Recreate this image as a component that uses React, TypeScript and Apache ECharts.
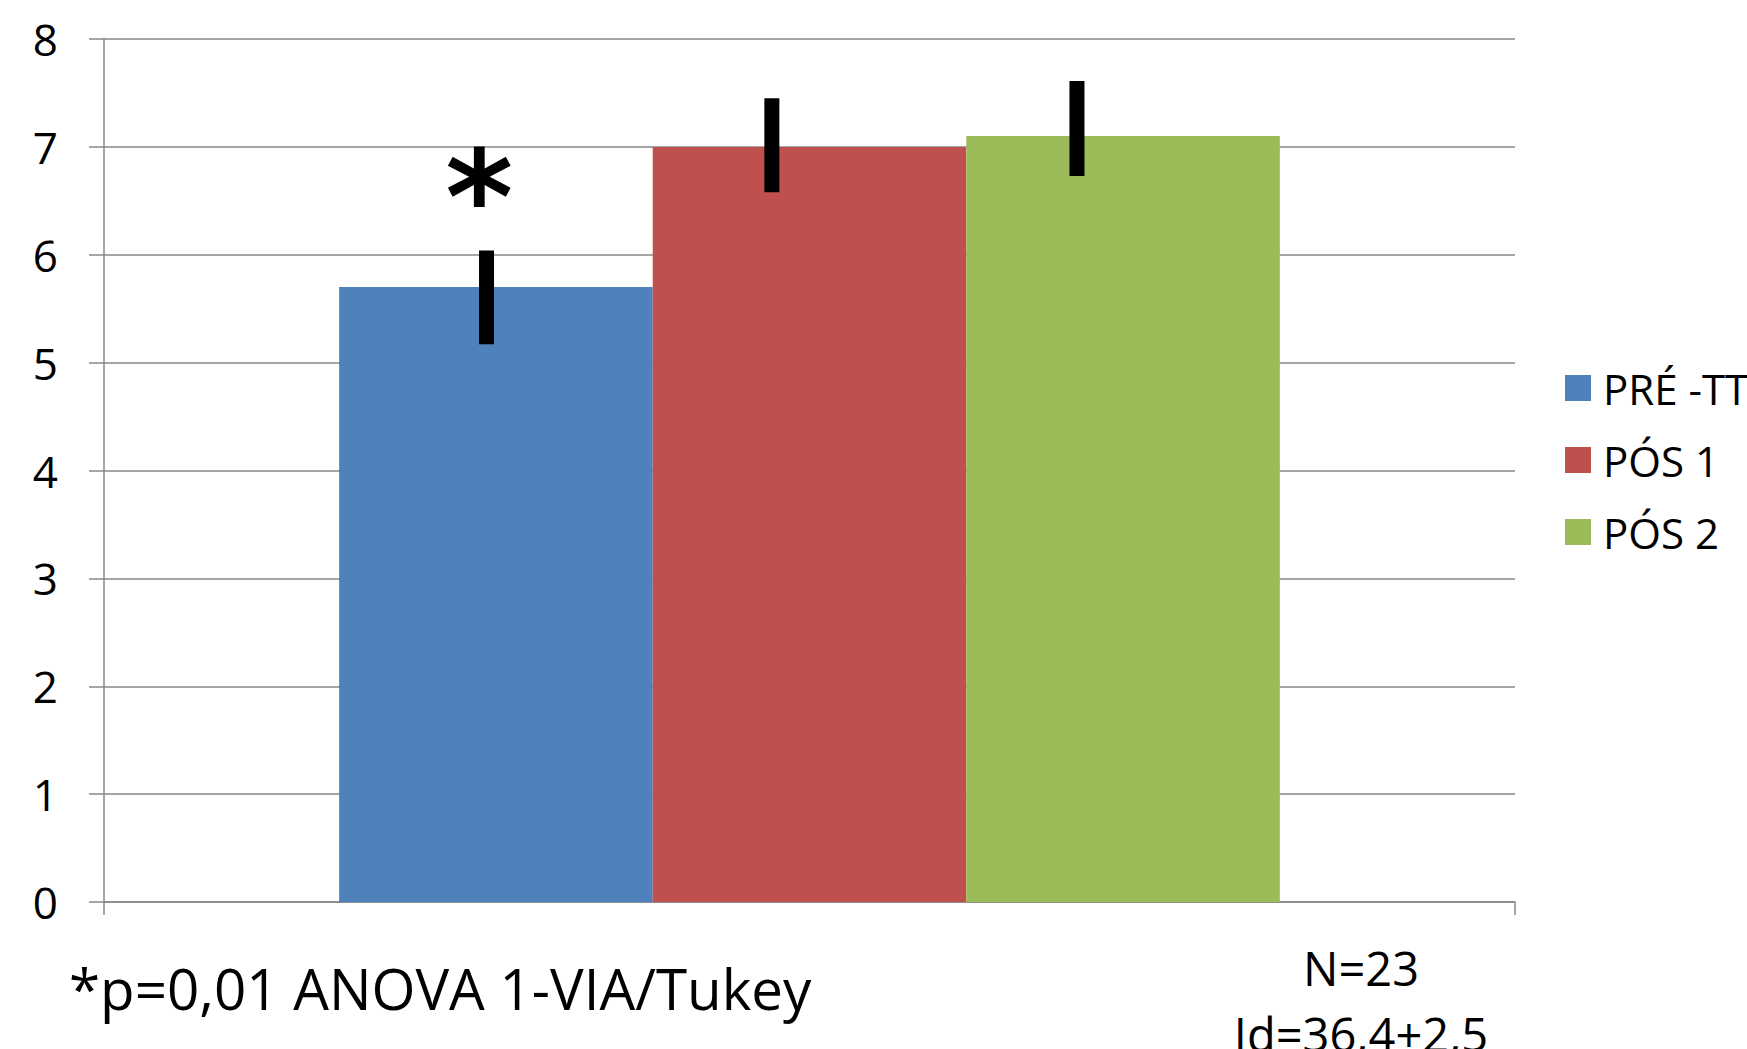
import React, { useEffect, useRef } from "react";
import * as echarts from "echarts";

// ---- data ----
const categories = [""];
const seriesNames = ["PRÉ -TT", "PÓS 1", "PÓS 2"];
const meanValues = [5.7, 7.0, 7.1];
const errorLow = [5.17, 6.58, 6.73];
const errorHigh = [6.04, 7.45, 7.61];
const significanceMarks = ["*", "", ""];
const significanceLevel = [6.53, 0, 0];
const yMin = 0;
const yMax = 8;
const yInterval = 1;
const footnote = "*p=0,01 ANOVA 1-VIA/Tukey";
const sampleNotes = ["N=23", "Id=36,4+2,5"];

// ---- style ----
const colors = ["#4F81BD", "#C0504D", "#9BBB59"];
const errFrac = [0.47, 0.38, 0.353];
const starFrac = [0.447, 0.5, 0.5];
const gridColor = "#878787";
const FONT = "'Open Sans', 'Noto Sans', sans-serif";
const CAT_GAP = 1 / 3;

export default function App() {
  const ref = useRef<HTMLDivElement>(null);
  useEffect(() => {
    if (!ref.current) return;
    const chart = echarts.init(ref.current, undefined, { renderer: "svg" });
    const barSeries = seriesNames.map((name, i) => ({
      name,
      type: "bar",
      data: [meanValues[i]],
      barGap: "0%",
      barCategoryGap: (CAT_GAP * 100).toFixed(2) + "%",
      itemStyle: { color: colors[i] },
      z: 2,
    }));
    const errSeries = {
      type: "custom",
      name: "err",
      clip: false,
      z: 5,
      data: seriesNames.map((_, i) => [0, errorLow[i], errorHigh[i], i, significanceLevel[i]]),
      encode: { x: 0, y: [1, 2] },
      renderItem: (params: any, api: any) => {
        const i = api.value(3);
        const center = api.coord([0, 0]);
        const band = api.size([1, 0])[0];
        const barW = (band * (1 - CAT_GAP)) / seriesNames.length;
        const left = center[0] - (barW * seriesNames.length) / 2 + i * barW;
        const x = left + errFrac[i] * barW;
        const yTop = api.coord([0, api.value(2)])[1];
        const yBot = api.coord([0, api.value(1)])[1];
        const children: any[] = [
          {
            type: "rect",
            shape: { x: x - 7.5, y: yTop, width: 15, height: yBot - yTop },
            style: { fill: "#000" },
          },
        ];
        if (significanceMarks[i]) {
          const ys = api.coord([0, api.value(4)])[1];
          children.push({
            type: "text",
            style: {
              text: significanceMarks[i],
              x: left + starFrac[i] * barW,
              y: ys,
              fill: "#000",
              fontSize: 130,
              fontWeight: "bold",
              fontFamily: "'DejaVu Sans', sans-serif",
              align: "center",
              verticalAlign: "middle",
            },
          });
        }
        return { type: "group", children };
      },
    };
    chart.setOption({
      animation: false,
      backgroundColor: "#fff",
      grid: { left: 104, right: 232, top: 39, bottom: 147, containLabel: false },
      legend: {
        data: seriesNames,
        orient: "vertical",
        left: 1565,
        top: 367,
        padding: 0,
        itemWidth: 26,
        itemHeight: 26,
        itemGap: 30,
        icon: "rect",
        selectedMode: false,
        textStyle: {
          fontSize: 42,
          fontFamily: FONT,
          color: "#000",
          padding: [0, 0, 0, 7],
        },
      },
      xAxis: {
        type: "category",
        data: categories,
        axisLine: { show: true, lineStyle: { color: gridColor, width: 1.5 } },
        axisTick: { show: true, length: 13, lineStyle: { color: gridColor, width: 1.5 } },
        axisLabel: { show: false },
      },
      yAxis: {
        type: "value",
        min: yMin,
        max: yMax,
        interval: yInterval,
        axisLine: { show: true, lineStyle: { color: gridColor, width: 1.5 } },
        axisTick: { show: true, length: 15, lineStyle: { color: gridColor, width: 1.5 } },
        splitLine: { show: true, lineStyle: { color: gridColor, width: 1.5 } },
        axisLabel: { fontSize: 44, fontFamily: FONT, color: "#000", margin: 46 },
      },
      graphic: [
        {
          type: "text",
          x: 69,
          y: 988,
          style: {
            text: footnote,
            fontSize: 56.5,
            fontFamily: FONT,
            fill: "#000",
            align: "left",
            verticalAlign: "middle",
          },
        },
        {
          type: "text",
          x: 1361,
          y: 968,
          style: {
            text: sampleNotes[0],
            fontSize: 47,
            fontFamily: FONT,
            fill: "#000",
            align: "center",
            verticalAlign: "middle",
          },
        },
        {
          type: "text",
          x: 1361,
          y: 1034,
          style: {
            text: sampleNotes[1],
            fontSize: 47,
            fontFamily: FONT,
            fill: "#000",
            align: "center",
            verticalAlign: "middle",
          },
        },
      ],
      series: [...barSeries, errSeries],
    });
    return () => chart.dispose();
  }, []);
  return (
    <div
      ref={ref}
      style={{ position: "absolute", left: 0, top: 0, width: 1747, height: 1049 }}
    />
  );
}
